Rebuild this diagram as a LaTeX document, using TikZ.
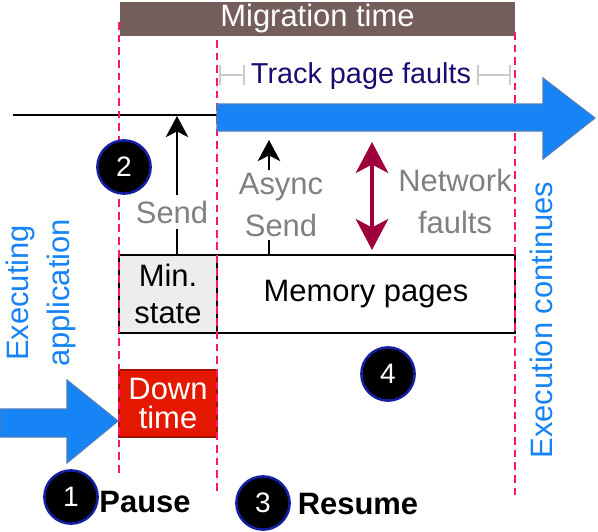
\documentclass[tikz,border=0pt]{standalone}
\usepackage{fontspec}
\setmainfont{Liberation Sans}
\usetikzlibrary{arrows.meta, positioning, calc}

\definecolor{migbrown}{RGB}{115,94,91}
\definecolor{phasepink}{RGB}{255,20,110}
\definecolor{execblue}{RGB}{22,132,245}
\definecolor{arrowedge}{RGB}{80,125,190}
\definecolor{faultred}{RGB}{160,0,60}
\definecolor{downred}{RGB}{228,24,0}
\definecolor{tracknavy}{RGB}{30,10,110}
\definecolor{ringblue}{RGB}{20,30,160}

\begin{document}
\begin{tikzpicture}[x=0.025cm, y=-0.025cm,
    font=\fontsize{22}{26}\selectfont,
    phase/.style={phasepink, line width=1.8pt, dash pattern=on 5.5pt off 3.5pt},
    memblock/.style={draw=black, line width=1.4pt, minimum height=1.95cm, inner sep=0pt, align=center},
    graylabel/.style={text=gray, align=center, inner sep=2pt, font=\fontsize{22}{29.5}\selectfont},
    stepnum/.style={circle, fill=black, draw=ringblue, line width=1.8pt, text=white,
        minimum size=1.33cm, inner sep=0pt, font=\fontsize{20}{22}\selectfont},
    bigarrow/.style={fill=execblue, draw=arrowedge, line width=0.8pt, line join=miter},
    sendarrow/.style={-{Stealth[length=15pt, width=16pt, inset=4pt]}, line width=1.4pt},
    trackbar/.style={gray!40, line width=1.2pt, {Bar[width=14pt]}-{Bar[width=14pt]}}]
  \useasboundingbox (0,0) rectangle (598,532);

  % migration window
  \node[fill=migbrown, text=white, minimum width=9.875cm, minimum height=0.85cm, inner sep=0pt] (migtime) at (317.5,19) {Migration time};

  % state that is moved
  \node[memblock, fill=black!7, minimum width=2.45cm] (minstate) at (168,294) {Min.\\state};
  \node[memblock, fill=white, minimum width=7.45cm] (mempages) at (366,294) {Memory pages};
  \node[fill=downred, draw=downred!70!black, line width=1pt, text=white, align=center,
        minimum width=2.45cm, minimum height=1.675cm, inner sep=0pt,
        font=\fontsize{22}{21}\selectfont] (downtime) at (168,403.5) {Down\\time};

  % source timeline
  \coordinate (appstart) at (13,115);
  \coordinate (resumept) at (217,115);
  \draw[line width=1.4pt] (appstart) -- (resumept);

  % phase boundaries
  \draw[phase] (119,22) -- (119,473);
  \draw[phase] (217,40) -- (217,492);
  \draw[phase] (515,32) -- (515,500);

  % execution arrows
  \draw[bigarrow] (217,104) -- (543,104) -- (543,78) -- (595,118) -- (543,159) -- (543,131) -- (217,131) -- cycle;
  \draw[bigarrow] (0,409) -- (67,409) -- (67,380) -- (118,421) -- (67,463) -- (67,437) -- (0,437) -- cycle;

  % tracking
  \node[text=tracknavy, font=\fontsize{20.5}{24}\selectfont] (track) at (361,76) {Track page faults};
  \coordinate (trackA) at (219,75);
  \coordinate (trackB) at (245,75);
  \coordinate (trackC) at (477,75);
  \coordinate (trackD) at (511,75);
  \draw[trackbar] (trackA) -- (trackB);
  \draw[trackbar] (trackC) -- (trackD);

  % transfers
  \node[graylabel, inner sep=3.5pt] (sendlbl) at (172,212) {Send};
  \coordinate (sendtip) at (177,116);
  \draw[line width=1.4pt] (sendtip |- minstate.north) -- (sendtip |- sendlbl.south);
  \draw[sendarrow] (sendtip |- sendlbl.north) -- (sendtip);

  \node[graylabel] (asynclbl) at (281,205) {Async\\Send};
  \coordinate (asynctip) at (269,140);
  \draw[line width=1.4pt] (asynctip |- mempages.north) -- (asynctip |- asynclbl.south);
  \draw[sendarrow] (asynctip |- asynclbl.north) -- (asynctip);

  \node[graylabel] (netlbl) at (455,201.5) {Network\\faults};
  \coordinate (nettop) at (372,142);
  \coordinate (netbot) at (372,250);
  \draw[faultred, line width=3pt, {Stealth[length=22pt, width=23pt, inset=6pt]}-{Stealth[length=22pt, width=23pt, inset=6pt]}] (nettop) -- (netbot);

  % side captions
  \node[text=execblue, rotate=90, align=center, font=\fontsize{22}{29}\selectfont] (execapp) at (41,293) {Executing\\application};
  \node[text=execblue, rotate=90] (execcont) at (541,320) {Execution continues};

  % steps
  \node[stepnum] (num1) at (71,497) {1};
  \node[stepnum] (num2) at (124,167) {2};
  \node[stepnum] (num3) at (263,503) {3};
  \node[stepnum] (num4) at (388,374) {4};
  \node[font=\fontsize{22}{26}\selectfont\bfseries] (pause) at (145,502) {Pause};
  \node[font=\fontsize{22}{26}\selectfont\bfseries] (resume) at (358,504) {Resume};
\end{tikzpicture}
\end{document}
